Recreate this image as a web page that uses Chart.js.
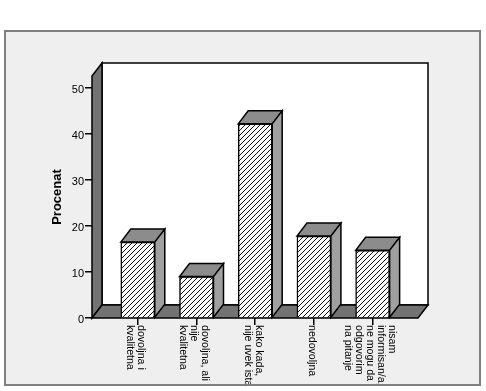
<!DOCTYPE html>
<html>
<head>
<meta charset="utf-8">
<style>
  html, body { margin:0; padding:0; background:#fff; }
  canvas { display:block; }
</style>
<script src="https://cdn.jsdelivr.net/npm/chart.js@4/dist/chart.umd.min.js"></script>
</head>
<body>
<canvas id="chart" width="486" height="391"></canvas>
<script>
/* ── Data ── */
const CATEGORIES = [
  ['dovoljna i', 'kvalitetna'],
  ['dovoljna, ali', 'nije', 'kvalitetna'],
  ['kako kada,', 'nije uvek ista'],
  ['nedovoljna'],
  ['nisam', 'informisan/a,', 'ne mogu da', 'odgovorim', 'na pitanje']
];
const PERCENTS = [16.5, 9.0, 42.2, 17.8, 14.7];
const Y_TICKS = [0, 10, 20, 30, 40, 50];

/* ── 3D look ── */
const DX = 10, DY = 13;
const WALL = '#737373', BAR_TOP = '#8c8c8c', BAR_SIDE = '#a0a0a0';
const FAMILY = '"Liberation Sans", Arial, sans-serif';

function hatch() {
  const c = document.createElement('canvas');
  c.width = c.height = 5;
  const g = c.getContext('2d');
  g.fillStyle = '#fff';
  g.fillRect(0, 0, 5, 5);
  g.strokeStyle = '#111';
  g.lineWidth = 1;
  g.beginPath();
  g.moveTo(-1, 6); g.lineTo(6, -1);
  g.moveTo(-1, 1); g.lineTo(1, -1);
  g.moveTo(4, 6); g.lineTo(6, 4);
  g.stroke();
  return g.createPattern(c, 'repeat');
}

function poly(ctx, pts, fill) {
  ctx.beginPath();
  pts.forEach((p, i) => i ? ctx.lineTo(p[0], p[1]) : ctx.moveTo(p[0], p[1]));
  ctx.closePath();
  ctx.fillStyle = fill;
  ctx.fill();
  ctx.stroke();
}

const frame3d = {
  id: 'frame3d',
  beforeDraw(chart) {
    const ctx = chart.ctx;
    ctx.save();
    ctx.fillStyle = '#efefef';
    ctx.fillRect(5, 31, 475, 354);
    ctx.restore();
  },
  beforeDatasetsDraw(chart) {
    const ctx = chart.ctx, a = chart.chartArea;
    ctx.save();
    ctx.strokeStyle = '#000';
    ctx.lineWidth = 1.5;
    poly(ctx, [[a.left + DX, a.top - DY], [a.right + DX, a.top - DY], [a.right + DX, a.bottom - DY], [a.left + DX, a.bottom - DY]], '#fff');
    poly(ctx, [[a.left, a.top], [a.left + DX, a.top - DY], [a.left + DX, a.bottom - DY], [a.left, a.bottom]], WALL);
    poly(ctx, [[a.left, a.bottom], [a.left + DX, a.bottom - DY], [a.right + DX, a.bottom - DY], [a.right, a.bottom]], WALL);
    ctx.restore();
  },
  afterDatasetsDraw(chart) {
    const ctx = chart.ctx;
    ctx.save();
    ctx.strokeStyle = '#000';
    ctx.lineWidth = 1.5;
    chart.getDatasetMeta(0).data.forEach(b => {
      const l = b.x - b.width / 2, r = b.x + b.width / 2, t = b.y, bt = b.base;
      poly(ctx, [[l, t], [l + DX, t - DY], [r + DX, t - DY], [r, t]], BAR_TOP);
      poly(ctx, [[r, t], [r + DX, t - DY], [r + DX, bt - DY], [r, bt]], BAR_SIDE);
    });
    ctx.restore();
  },
  afterDraw(chart) {
    const ctx = chart.ctx, x = chart.scales.x, y0 = chart.chartArea.bottom;
    ctx.save();
    // category labels read top to bottom, first line on the right
    ctx.fillStyle = '#000';
    ctx.font = `10.6px ${FAMILY}`;
    ctx.textAlign = 'left';
    ctx.textBaseline = 'middle';
    CATEGORIES.forEach((lines, i) => {
      const cx = x.getPixelForValue(i) - 2.2;
      lines.forEach((txt, j) => {
        ctx.save();
        ctx.translate(cx + ((lines.length - 1) / 2 - j) * 11, y0 + 7);
        ctx.rotate(Math.PI / 2);
        ctx.fillText(txt, 0, 0);
        ctx.restore();
      });
    });
    ctx.strokeStyle = '#808080';
    ctx.lineWidth = 2;
    ctx.strokeRect(5, 31, 475, 354);
    ctx.restore();
  }
};

new Chart(document.getElementById('chart'), {
  type: 'bar',
  data: {
    labels: CATEGORIES.map(l => l.join(' ')),
    datasets: [{
      data: PERCENTS.map((v, i) => ({ x: i, y: v })),
      backgroundColor: hatch(),
      borderColor: '#000',
      borderWidth: 1.5,
      barThickness: 34
    }]
  },
  options: {
    responsive: false,
    animation: false,
    layout: { padding: { left: 50, right: 68, top: 76, bottom: 0 } },
    plugins: { legend: { display: false }, tooltip: { enabled: false } },
    scales: {
      x: {
        type: 'linear',
        min: -0.78,
        max: 4.773,
        offset: false,
        afterBuildTicks: s => { s.ticks = CATEGORIES.map((_, i) => ({ value: i })); },
        afterFit: s => { s.height = 73; },
        grid: { offset: false, drawOnChartArea: false, tickLength: 7, color: '#000', lineWidth: 1.5 },
        border: { display: false },
        ticks: { display: false }
      },
      y: {
        min: 0,
        max: 52.6,
        afterBuildTicks: s => { s.ticks = Y_TICKS.map(v => ({ value: v })); },
        afterFit: s => { s.width = 42; },
        title: {
          display: true,
          text: 'Procenat',
          color: '#000',
          font: { family: FAMILY, size: 13, weight: 'bold' },
          padding: 0
        },
        grid: { drawOnChartArea: false, tickLength: 7, color: '#000', lineWidth: 1.5 },
        border: { display: false },
        ticks: {
          color: '#000',
          padding: 1,
          // empty first line nudges the number just below its tick mark
          callback: v => ['', String(v)],
          font: { family: FAMILY, size: 11, lineHeight: 0.3 }
        }
      }
    }
  },
  plugins: [frame3d]
});
</script>
</body>
</html>
